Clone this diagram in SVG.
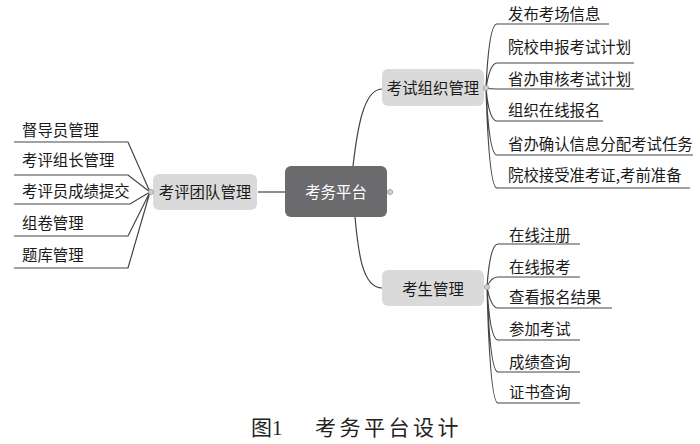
<svg xmlns="http://www.w3.org/2000/svg" width="700" height="444" viewBox="0 0 700 444">
<style>
.t{font-family:"Noto Sans CJK SC","Liberation Sans",sans-serif;font-size:15.4px;fill:#1a1a1a}
.n{fill:#dadada}
.c{fill:none;stroke:#444;stroke-width:1.2}
.d{fill:#cfcfcf;stroke:#999;stroke-width:0.8}
.cap{font-family:"Liberation Serif","Noto Sans CJK SC",serif;font-size:21px;fill:#222}
</style>
<rect width="700" height="444" fill="#fff"/>
<g id="connectors">
<path class="c" d="M258,192 H285"/>
<path class="c" d="M353,166 C357,132 363,89 382,89"/>
<path class="c" d="M355,217 C358,250 362,288 382,288"/>
<path class="c" d="M150,192 L128,142 H14 M150,192 L128,175 H14 M150,192 L130,204 H14 M150,192 L128,236 H14 M150,192 L128,268 H14"/>
<path class="c" d="M486,88 Q489,24 497,24 H609 M486,88 Q490,63 497,63 H634 M486,88 Q490,89 497,89 H634 M486,88 Q489,121 497,121 H603 M486,88 Q489,155 497,155 H693 M486,88 Q489,188 497,188 H690"/>
<path class="c" d="M487,287 Q490,244 498,244 H580 M487,287 Q491,277 498,277 H580 M487,287 Q491,308 498,308 H612 M487,287 Q490,340 498,340 H580 M487,287 Q490,372 498,372 H580 M487,287 Q490,403 498,403 H580"/>
</g>
<g id="center">
<rect x="285" y="166" width="102" height="51" rx="6" fill="#6b6b6e"/>
<text class="t" x="336" y="198" text-anchor="middle" style="fill:#fff">考务平台</text>
<circle class="d" cx="390" cy="192" r="2.6"/>
</g>
<g id="team">
<rect class="n" x="153" y="174" width="104" height="36" rx="6"/>
<text class="t" x="205" y="197.5" text-anchor="middle">考评团队管理</text>
<circle class="d" cx="151" cy="192" r="2.6"/>
</g>
<g id="exam-org">
<rect class="n" x="382" y="69" width="102" height="37" rx="6"/>
<text class="t" x="433" y="93.5" text-anchor="middle">考试组织管理</text>
<circle class="d" cx="486" cy="88" r="2.6"/>
</g>
<g id="student">
<rect class="n" x="382" y="270" width="102" height="36" rx="6"/>
<text class="t" x="433" y="294.5" text-anchor="middle">考生管理</text>
<circle class="d" cx="487" cy="287" r="2.6"/>
</g>
<g id="team-leaves">
<text class="t" x="22" y="135.5">督导员管理</text>
<text class="t" x="22" y="166">考评组长管理</text>
<text class="t" x="22" y="196.5">考评员成绩提交</text>
<text class="t" x="22" y="229">组卷管理</text>
<text class="t" x="22" y="260.5">题库管理</text>
</g>
<g id="org-leaves">
<text class="t" x="508" y="19.5">发布考场信息</text>
<text class="t" x="508" y="52.5">院校申报考试计划</text>
<text class="t" x="508" y="84.5">省办审核考试计划</text>
<text class="t" x="508" y="116">组织在线报名</text>
<text class="t" x="508" y="150">省办确认信息分配考试任务</text>
<text class="t" x="508" y="181">院校接受准考证,考前准备</text>
</g>
<g id="student-leaves">
<text class="t" x="509" y="240.5">在线注册</text>
<text class="t" x="509" y="272.5">在线报考</text>
<text class="t" x="509" y="302.5">查看报名结果</text>
<text class="t" x="509" y="335">参加考试</text>
<text class="t" x="509" y="367.5">成绩查询</text>
<text class="t" x="509" y="398">证书查询</text>
</g>
<g id="caption">
<text class="cap" y="435"><tspan x="251">图1</tspan><tspan x="315" letter-spacing="3.5">考务平台设计</tspan></text>
</g>
</svg>
